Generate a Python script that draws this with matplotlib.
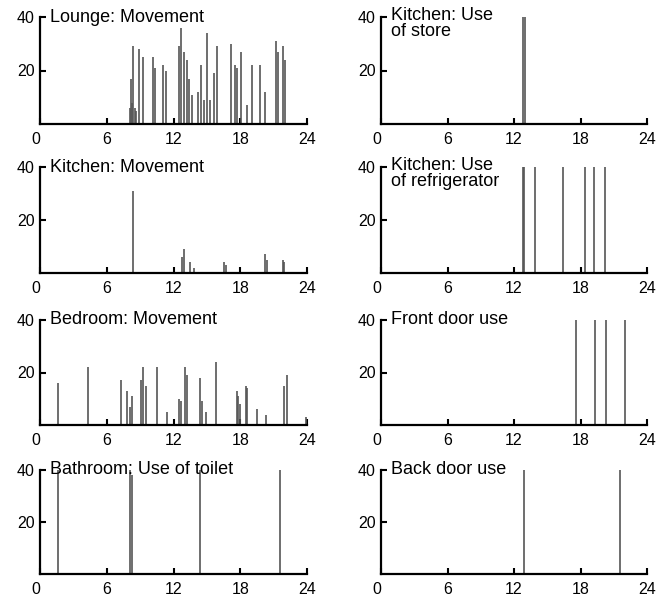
import matplotlib
matplotlib.use('Agg')
import matplotlib.pyplot as plt

plt.rcParams['font.family'] = ['Liberation Sans', 'DejaVu Sans']

# hour of day and count for each spike
lounge_t = [8.1, 8.2, 8.3, 8.4, 8.5, 8.6, 8.9, 9.3, 10.2, 10.3, 11.1, 11.3, 12.5, 12.7,
            12.9, 13.2, 13.4, 13.7, 14.2, 14.5, 14.7, 15.0, 15.3, 15.6, 15.9, 17.2,
            17.5, 17.7, 18.1, 18.6, 19.1, 19.8, 20.2, 21.2, 21.4, 21.8, 22.0]
lounge_h = [6, 17, 8, 29, 6, 5, 28, 25, 25, 21, 22, 20, 29, 36,
            27, 24, 17, 11, 12, 22, 9, 34, 9, 19, 29, 30,
            22, 21, 27, 7, 22, 22, 12, 31, 27, 29, 24]

store_t = [12.8, 13.0]
store_h = [40, 40]

kitchen_t = [8.4, 12.8, 12.9, 13.5, 13.8, 16.5, 16.7, 20.2, 20.4, 21.8, 21.9]
kitchen_h = [31, 6, 9, 4, 2, 4, 3, 7, 5, 5, 4]

fridge_t = [12.8, 12.9, 13.9, 16.4, 18.4, 19.2, 20.2]
fridge_h = [40, 40, 40, 40, 40, 40, 40]

bedroom_t = [1.6, 4.3, 7.3, 7.8, 8.1, 8.3, 9.1, 9.3, 9.5, 10.5, 11.4, 12.5, 12.7,
             13.0, 13.2, 14.4, 14.6, 14.9, 15.8, 17.7, 17.8, 18.0, 18.5, 18.6,
             19.5, 20.3, 21.9, 22.2, 23.9]
bedroom_h = [16, 22, 17, 13, 7, 11, 17, 22, 15, 22, 5, 10, 9,
             22, 19, 18, 9, 5, 24, 13, 11, 8, 15, 14,
             6, 4, 15, 19, 3]

front_t = [17.6, 19.3, 20.3, 22.0]
front_h = [40, 40, 40, 40]

toilet_t = [1.6, 8.1, 8.3, 14.4, 21.6]
toilet_h = [40, 40, 38, 40, 40]

back_t = [12.9, 21.6]
back_h = [40, 40]

titles = ['Lounge: Movement', 'Kitchen: Use\nof store',
          'Kitchen: Movement', 'Kitchen: Use\nof refrigerator',
          'Bedroom: Movement', 'Front door use',
          'Bathroom: Use of toilet', 'Back door use']
series = [(lounge_t, lounge_h), (store_t, store_h),
          (kitchen_t, kitchen_h), (fridge_t, fridge_h),
          (bedroom_t, bedroom_h), (front_t, front_h),
          (toilet_t, toilet_h), (back_t, back_h)]

W, H = 660, 596
fig = plt.figure(figsize=(6.6, 5.96), dpi=100)

col_x = [(40, 267), (381, 266)]
row_y = [(17, 124), (167, 273), (320, 425), (470, 574)]

for i, (title, (t, h)) in enumerate(zip(titles, series)):
    r, c = divmod(i, 2)
    x0, w = col_x[c]
    top, base = row_y[r]
    ax = fig.add_axes([x0 / W, 1 - base / H, w / W, (base - top) / H])
    ax.vlines(t, 0, h, color='#555555', lw=1.2)
    ax.set_xlim(0, 24)
    ax.set_ylim(0, 40)
    ax.set_xticks([0, 6, 12, 18, 24])
    ax.set_yticks([20, 40])
    ax.tick_params(direction='in', length=4, width=1.5, labelsize=11.5)
    ax.tick_params(axis='x', pad=6)
    ax.tick_params(axis='y', pad=4)
    ax.get_xticklabels()[0].set_horizontalalignment('right')
    for s in ['top', 'right']:
        ax.spines[s].set_visible(False)
    for s in ['left', 'bottom']:
        ax.spines[s].set_linewidth(1.6)
    if '\n' in title:
        ax.annotate(title, xy=(0, 40), xytext=(7, 7), textcoords='offset points',
                    va='top', fontsize=13, linespacing=0.9)
    else:
        ax.annotate(title, xy=(0, 40), xytext=(7, 0), textcoords='offset points',
                    va='center', fontsize=13)

fig.savefig('out.png', dpi=100)
